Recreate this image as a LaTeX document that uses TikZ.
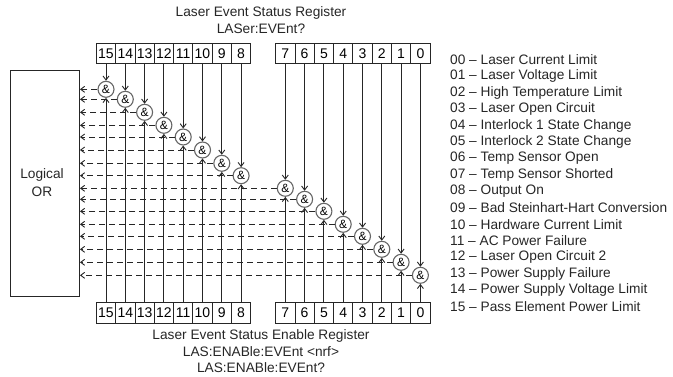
\documentclass[tikz,border=0pt]{standalone}
\usepackage{fontspec}
\setmainfont{Liberation Sans}
\usetikzlibrary{arrows.meta,calc}
\tikzset{
 regbox/.style={draw=black!85,line width=.9pt,minimum width=19.3pt,minimum height=20.5pt,inner sep=0pt,font=\fontsize{14pt}{16pt}\selectfont},
 gate/.style={circle,draw=black!60,line width=1.1pt,fill=white,minimum size=16pt,inner sep=0pt,font=\fontsize{12pt}{14pt}\selectfont},
 sig/.style={draw=black!85,line width=.9pt,-{Straight Barb[length=4pt,width=6pt]}},
 outsig/.style={sig,dash pattern=on 6pt off 4pt},
 lbl/.style={inner sep=0pt,font=\fontsize{13.7pt}{16pt}\selectfont,text=black!85},
 leg/.style={lbl,anchor=west},
}
\begin{document}
\begin{tikzpicture}[x=1pt,y=-1pt]
\useasboundingbox (0,0) rectangle (673,377);
\node[draw=black!85,line width=.9pt,minimum width=69.5pt,minimum height=226pt,inner sep=0pt] (or) at (44.75,183) {};
\node[lbl] (ort1) at (42,175) {Logical};
\node[lbl] (ort2) at (42,192) {OR};
\foreach \n/\x/\y in {15/106/89.3,14/125.3/99.3,13/144.6/112.3,12/163.9/125.3,11/183.2/137,10/202.5/150,9/221.8/163.3,8/241.1/175.7,7/285.3/188.3,6/304.6/199.3,5/323.9/211.3,4/343.2/224.3,3/362.5/236.3,2/381.8/249.3,1/401.1/262.3,0/420.4/275.3}{
  \node[regbox] (t\n) at (\x,53.7) {\n};
  \node[regbox] (b\n) at (\x,313) {\n};
  \node[gate] (g\n) at (\x,\y) {\&};
  \draw[sig] (t\n.south) -- (g\n.north);
  \draw[sig] (b\n.north) -- (g\n.south);
  \draw[outsig] (g\n.west) -- (g\n.west -| or.east);
}
\node[lbl] (tt1) at (261,12.5) {Laser Event Status Register};
\node[lbl] (tt2) at (261,29) {LASer:EVEnt?};
\node[lbl] (bt1) at (261,335.7) {Laser Event Status Enable Register};
\node[lbl] (bt2) at (261,352) {LAS:ENABle:EVEnt <nrf>};
\node[lbl] (bt3) at (261,368) {LAS:ENABle:EVEnt?};
\foreach \i/\s in {0/00 – Laser Current Limit,1/01 – Laser Voltage Limit,2/02 – High Temperature Limit,3/03 – Laser Open Circuit,4/04 – Interlock 1 State Change,5/05 – Interlock 2 State Change,6/06 – Temp Sensor Open,7/07 – Temp Sensor Shorted,8/08 – Output On,9/09 – Bad Steinhart-Hart Conversion,10/10 – Hardware Current Limit,11/11 – AC Power Failure,12/12 – Laser Open Circuit 2,13/13 – Power Supply Failure,14/14 – Power Supply Voltage Limit,15/15 – Pass Element Power Limit}{
  \node[leg] (l\i) at (450,{59.7+\i*16.47}) {\s};
}
\end{tikzpicture}
\end{document}
